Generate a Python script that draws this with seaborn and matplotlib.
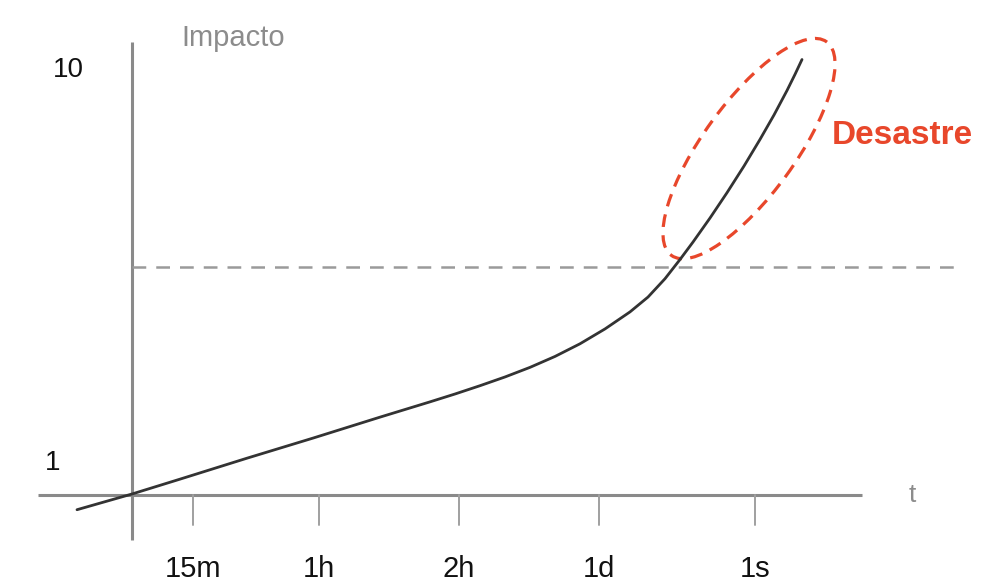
import numpy as np
import pandas as pd
import matplotlib
matplotlib.use("Agg")
import matplotlib.pyplot as plt
from matplotlib.patches import Ellipse
from matplotlib.transforms import ScaledTranslation
import seaborn as sns

# Curva de impacto vs tiempo (unidades del eje: x = tiempo, y = impacto)
t_vals = [-0.55, 0.0, 0.48, 1.15, 1.81, 2.48, 2.98, 3.23, 3.48, 3.73, 3.98, 4.23,
          4.48, 4.73, 4.98, 5.16, 5.33, 5.48, 5.61, 5.78, 5.95, 6.12, 6.28, 6.42,
          6.55, 6.63, 6.70]
impacto_vals = [-0.07, 0.29, 0.63, 1.11, 1.57, 2.05, 2.40, 2.58, 2.77, 2.97, 3.19, 3.44,
                3.73, 4.07, 4.46, 4.80, 5.22, 5.66, 6.06, 6.61, 7.19, 7.80, 8.41, 8.97,
                9.53, 9.90, 10.24]

# Marcas del eje de tiempo
tick_pos = [0.61, 1.87, 3.27, 4.67, 6.23]
tick_labels = ["15m", "1h", "2h", "1d", "1s"]

# Valores del eje de impacto
y_labels = [1, 10]

umbral = 5.49        # nivel de desastre (línea discontinua)
base_y = 0.267       # nivel del eje horizontal

df = pd.DataFrame({"t": t_vals, "impacto": impacto_vals})

sns.set_theme(style="white")
plt.rcParams["font.family"] = ["Liberation Sans", "DejaVu Sans"]

fig = plt.figure(figsize=(9.94, 5.86), dpi=100)
ax = fig.add_axes([0, 0, 1, 1])
ax.set_xlim(-1.32, 8.62)
ax.set_ylim(-1.817, 11.603)
ax.axis("off")

axis_col = "#8a8a8a"
red = "#e8472b"

# ejes
ax.plot([-0.94, 7.30], [base_y, base_y], color=axis_col, lw=2.2, solid_capstyle="butt")
ax.plot([0, 0], [-0.763, 10.64], color=axis_col, lw=2.2, solid_capstyle="butt")
for xp, lab in zip(tick_pos, tick_labels):
    ax.plot([xp, xp], [base_y, -0.42], color="#a0a0a0", lw=1.4)
    ax.text(xp, -1.42, lab, ha="center", va="center", fontsize=21, color="#111111")

for v in y_labels:
    ax.text(-0.64 if v == 10 else -0.79, v, str(v), ha="center", va="center",
            fontsize=20, color="#111111")

ax.text(1.01, 10.73, "Impacto", ha="center", va="center", fontsize=21, color="#8c8c8c")
ax.text(7.80, base_y, "t", ha="center", va="center", fontsize=19, color="#8c8c8c")

# umbral
ax.axhline(umbral, xmin=(0 + 1.32) / 9.94, xmax=(8.28 + 1.32) / 9.94,
           color="#9a9a9a", lw=1.8, dashes=(5.5, 4))

# curva
sns.lineplot(data=df, x="t", y="impacto", ax=ax, color="#333333", lw=2.0,
             sort=False, estimator=None)

# elipse de desastre
ell_center = (6.17, 8.20)
ell = Ellipse((0, 0), width=2.64, height=0.92, angle=54, fill=False,
              edgecolor=red, lw=2.3, linestyle=(0, (4, 2.6)),
              transform=fig.dpi_scale_trans + ScaledTranslation(*ell_center, ax.transData))
ax.add_patch(ell)

ax.text(7.70, 8.51, "Desastre", ha="center", va="center", fontsize=24,
        fontweight="bold", color=red)

fig.savefig("out.png", dpi=100)
